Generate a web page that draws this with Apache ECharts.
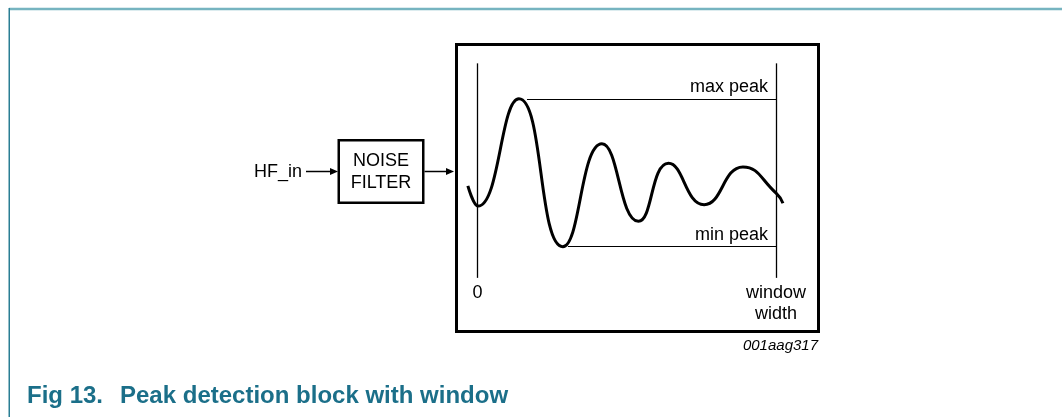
<!DOCTYPE html>
<html>
<head>
<meta charset="utf-8">
<title>Peak detection block with window</title>
<script src="https://cdn.jsdelivr.net/npm/echarts@6.0.0/dist/echarts.min.js"></script>
<style>
  html, body { margin: 0; padding: 0; background: #fff; }
  #chart { width: 1062px; height: 417px; }
</style>
</head>
<body>
<div id="chart"></div>
<script>
// waveform extremes (time units: window width = 10)
const waveX = [-0.32, 0.02, 1.39, 2.86, 4.17, 5.39, 6.40, 7.59, 8.89, 10.0, 10.23];
const waveY = [-0.17, -0.45, 1.03, -1.01, 0.41, -0.66, 0.14, -0.43, 0.09, -0.27, -0.41];

// window markers
const windowX = [0, 10];
const windowLabels = ['0', 'window\nwidth'];
const markerRange = [-1.44, 1.52];

// peak levels
const peakNames = ['max peak', 'min peak'];
const peakLevels = [1.03, -1.01];
const peakFrom = [1.66, 3.03];

const FONT = "'Liberation Sans', Arial, Helvetica, sans-serif";
const TEAL = '#1b6f89';

let myChart = echarts.init(document.getElementById('chart'));

let markLines = [];
windowX.forEach((x, i) => {
  markLines.push([
    { coord: [x, markerRange[0]], lineStyle: { width: 1.3 },
      label: { show: true, position: 'start', formatter: windowLabels[i], distance: 5,
               color: '#000', fontSize: 18, fontFamily: FONT, lineHeight: 21, align: 'center' } },
    { coord: [x, markerRange[1]] }
  ]);
});
peakLevels.forEach((y, i) => {
  markLines.push([
    { coord: [peakFrom[i], y], lineStyle: { width: 1 },
      label: { show: true, position: 'insideEndTop', formatter: peakNames[i], distance: [8, 3],
               color: '#000', fontSize: 18, fontFamily: FONT } },
    { coord: [windowX[1], y] }
  ]);
});

let option = {
  animation: false,
  backgroundColor: '#fff',
  grid: {
    left: 456.5,
    top: 44.5,
    width: 362,
    height: 287,
    show: true,
    borderColor: '#000',
    borderWidth: 3,
    backgroundColor: 'transparent'
  },
  xAxis: { type: 'value', min: -0.70, max: 11.42, show: false },
  yAxis: { type: 'value', min: -2.18, max: 1.78, show: false },
  series: [
    {
      name: 'signal',
      type: 'line',
      data: waveX.map((x, i) => [x, waveY[i]]),
      smooth: 0.5,
      showSymbol: false,
      symbol: 'none',
      clip: false,
      lineStyle: { color: '#000', width: 3 }
    },
    {
      name: 'window',
      type: 'line',
      data: [],
      markLine: {
        silent: true,
        symbol: ['none', 'none'],
        lineStyle: { color: '#000', type: 'solid' },
        data: markLines
      }
    }
  ],
  graphic: [
    // page frame
    { type: 'line', shape: { x1: 9, y1: 9, x2: 1062, y2: 9 }, style: { stroke: '#76b4c0', lineWidth: 2.5 } },
    { type: 'line', shape: { x1: 9.25, y1: 8, x2: 9.25, y2: 417 }, style: { stroke: '#2a7e94', lineWidth: 1.5 } },
    // input + noise filter
    { type: 'text', x: 302, y: 172, style: { text: 'HF_in', font: '18px ' + FONT, fill: '#000', align: 'right', verticalAlign: 'middle' } },
    { type: 'line', shape: { x1: 306, y1: 171.5, x2: 331, y2: 171.5 }, style: { stroke: '#000', lineWidth: 1.5 } },
    { type: 'polygon', shape: { points: [[330, 168], [338, 171.5], [330, 175]] }, style: { fill: '#000' } },
    { type: 'rect', shape: { x: 338.75, y: 140.25, width: 84.5, height: 62.5 }, style: { fill: 'none', stroke: '#000', lineWidth: 2.5 } },
    { type: 'text', x: 381, y: 172, style: { text: 'NOISE\nFILTER', font: '18px ' + FONT, lineHeight: 22.5, fill: '#000', align: 'center', verticalAlign: 'middle' } },
    { type: 'line', shape: { x1: 424.5, y1: 171.5, x2: 447, y2: 171.5 }, style: { stroke: '#000', lineWidth: 1.5 } },
    { type: 'polygon', shape: { points: [[446, 168], [454, 171.5], [446, 175]] }, style: { fill: '#000' } },
    // figure id
    { type: 'text', x: 818, y: 346, style: { text: '001aag317', font: 'italic 15px ' + FONT, fill: '#000', align: 'right', verticalAlign: 'middle' } },
    // caption
    { type: 'text', x: 27, y: 396, style: { text: 'Fig 13.', font: 'bold 24px ' + FONT, fill: TEAL, align: 'left', verticalAlign: 'middle' } },
    { type: 'text', x: 120, y: 396, style: { text: 'Peak detection block with window', font: 'bold 24px ' + FONT, fill: TEAL, align: 'left', verticalAlign: 'middle' } }
  ]
};

myChart.setOption(option);
window.addEventListener('resize', () => {
  myChart.resize();
}, true);
</script>
</body>
</html>
